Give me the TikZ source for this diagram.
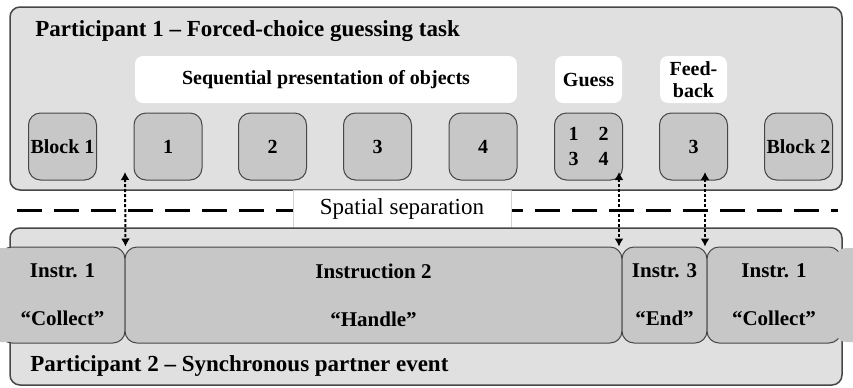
\documentclass[tikz,border=0pt]{standalone}
\usepackage{fontspec}
\setmainfont{Liberation Serif}
\usetikzlibrary{positioning}
\usetikzlibrary{arrows.meta}

\definecolor{panelfill}{gray}{0.88}
\definecolor{stimfill}{gray}{0.78}
\definecolor{darkedge}{gray}{0.28}

\tikzset{
  panel/.style={draw=darkedge, fill=panelfill, line width=0.75pt, rounded corners=5pt},
  ptitle/.style={font=\bfseries\fontsize{11.5}{14}\selectfont, inner sep=0pt},
  stim/.style={draw=darkedge, fill=stimfill, line width=0.5pt, rounded corners=6pt,
    minimum width=34pt, minimum height=33.5pt, inner sep=0pt, align=center,
    font=\bfseries\fontsize{10}{12.5}\selectfont},
  phase/.style={fill=white, rounded corners=4pt, minimum height=23.5pt, inner sep=0pt,
    align=center, font=\bfseries\fontsize{10}{11}\selectfont},
  instr/.style={draw=darkedge, fill=stimfill, line width=0.5pt, rounded corners=6pt,
    minimum height=48pt, inner sep=0pt, align=center,
    font=\bfseries\fontsize{10.5}{24}\selectfont},
  link/.style={line width=1pt, dash pattern=on 1.5pt off 1pt,
    {Latex[length=4pt,width=4.5pt]}-{Latex[length=4pt,width=4.5pt]}},
}

\begin{document}
\begin{tikzpicture}[x=0.5pt, y=-0.5pt]
  \useasboundingbox (0,0) rectangle (853,387);

  % participant 1 panel
  \draw[panel] (10,7) rectangle (842,190);
  \node[ptitle, anchor=base west] (title1) at (35,36) {Participant 1 -- Forced-choice guessing task};

  % phases of a trial
  \node[phase, minimum width=191pt] (seq) at (326,79.5) {Sequential presentation of objects};
  \node[phase, minimum width=33.5pt] (guess) at (588.5,79.5) {Guess};
  \node[phase, minimum width=33.5pt] (fb) at (693.5,79.5) {Feed-\\back};

  % screens shown to participant 1
  \node[stim] (block1) at (62.5,146.5) {Block 1};
  \node[stim] (obj1) at (168,146.5) {1};
  \node[stim] (obj2) at (272.5,146.5) {2};
  \node[stim] (obj3) at (377.5,146.5) {3};
  \node[stim] (obj4) at (483,146.5) {4};
  \node[stim] (choice) at (588.5,146.5) {1\hspace{10pt}2\\3\hspace{10pt}4};
  \node[stim] (shown) at (693.5,146.5) {3};
  \node[stim] (block2) at (798.5,146.5) {Block 2};

  % the two rooms are separated
  \draw[line width=1.5pt, dash pattern=on 12.5pt off 6pt] (17,210) -- (838,210);
  \node[draw=gray!35, line width=0.4pt, fill=white, minimum width=109pt, minimum height=19pt,
    inner sep=0pt, font=\fontsize{11.5}{14}\selectfont] (sep) at (402,209) {Spatial separation};

  % participant 2 panel
  \draw[panel] (10,228) rectangle (842,385);
  \node[instr, minimum width=62.5pt] (instr1) at (62.5,295) {Instr. 1\\“Collect”};
  \node[instr, minimum width=248.5pt] (instr2) at (373.5,295) {Instruction 2\\“Handle”};
  \node[instr, minimum width=42.5pt] (instr3) at (664.5,295) {Instr. 3\\“End”};
  \node[instr, minimum width=67pt] (instr4) at (774,295) {Instr. 1\\“Collect”};
  \fill[stimfill, rounded corners=5pt] (-12,248) rectangle (16,342);
  \fill[stimfill, rounded corners=5pt] (836,248) rectangle (865,342);
  \node[ptitle, anchor=base west] (title2) at (30,371) {Participant 2 -- Synchronous partner event};

  % cues passed between the participants
  \coordinate (cue1) at (125,172);
  \coordinate (cue2) at (619,172);
  \coordinate (cue3) at (705,172);
  \draw[link] (cue1) -- (instr1.north east);
  \draw[link] (cue2) -- (cue2 |- instr2.north);
  \draw[link] (cue3) -- (cue3 |- instr3.north);
\end{tikzpicture}
\end{document}
